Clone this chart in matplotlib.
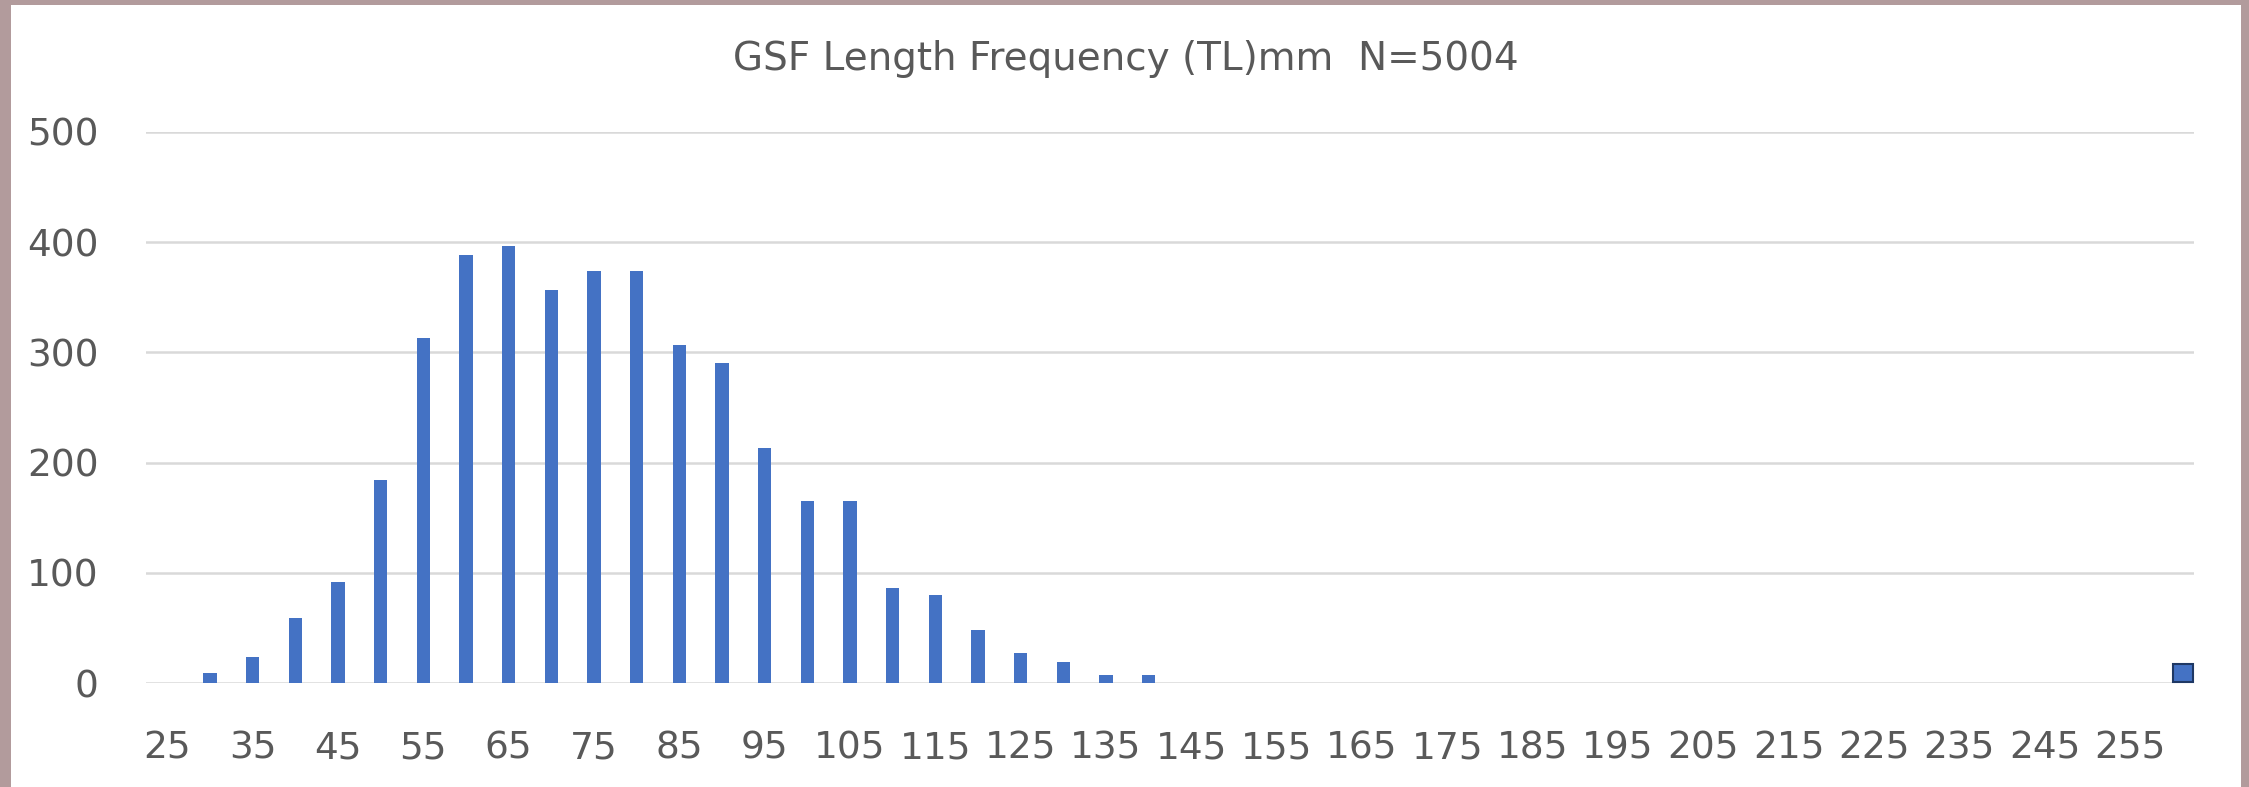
import numpy as np
import matplotlib
matplotlib.use('Agg')
import matplotlib.pyplot as plt
from matplotlib.patches import Patch, Rectangle

# length classes (mm), 25..260 step 5
lengths = list(range(25, 265, 5))
counts = [0, 9, 24, 59, 92, 184, 313, 388, 397, 357, 374, 374, 307, 290, 213,
          165, 165, 86, 80, 48, 27, 19, 7, 7] + [0] * 24

title = 'GSF Length Frequency (TL)mm  N=5004'
y_ticks = [0, 100, 200, 300, 400, 500]

bar_color = '#4472C4'
text_color = '#595959'
grid_color = '#d9d9d9'

W, H = 2249, 787
fig = plt.figure(figsize=(W / 100, H / 100), dpi=100)
fig.patch.set_facecolor('#b29b9c')
# white chart panel behind everything
panel = Rectangle((11 / W, 0), (2241 - 11) / W, 1 - 5 / H,
                  transform=fig.transFigure, facecolor='white',
                  edgecolor='none', zorder=-10)
fig.add_artist(panel)

ax = fig.add_axes([146 / W, 1 - 683 / H, (2194 - 146) / W, (683 - 132) / H])
ax.set_facecolor('none')

x = np.arange(len(lengths))
ax.bar(x, counts, width=0.31, color=bar_color, zorder=3)

ax.set_xlim(-0.5, len(lengths) - 0.5)
ax.set_ylim(0, 500)
ax.set_yticks(y_ticks)
ax.set_xticks(x[::2])
ax.set_xticklabels([str(v) for v in lengths[::2]])

ax.grid(axis='y', color=grid_color, linewidth=1.8, zorder=0)
ax.grid(axis='x', visible=False)
for s in ax.spines.values():
    s.set_visible(False)
ax.tick_params(axis='both', length=0, labelsize=27, colors=text_color)
ax.tick_params(axis='y', pad=34)
ax.tick_params(axis='x', pad=34)

fig.text(1126 / W, 1 - 59 / H, title, ha='center', va='center',
         fontsize=28, color=text_color)

# series key at bottom right
handle = Patch(facecolor=bar_color, edgecolor='#1f3864', linewidth=1.5)
fig.legend([handle], [''], loc='center', bbox_to_anchor=(2183 / W, 1 - 674 / H),
           frameon=False, fontsize=15, handlelength=1.0, handleheight=1.0,
           handletextpad=0, borderpad=0, borderaxespad=0)

fig.savefig('out.png', dpi=100, facecolor=fig.get_facecolor())
